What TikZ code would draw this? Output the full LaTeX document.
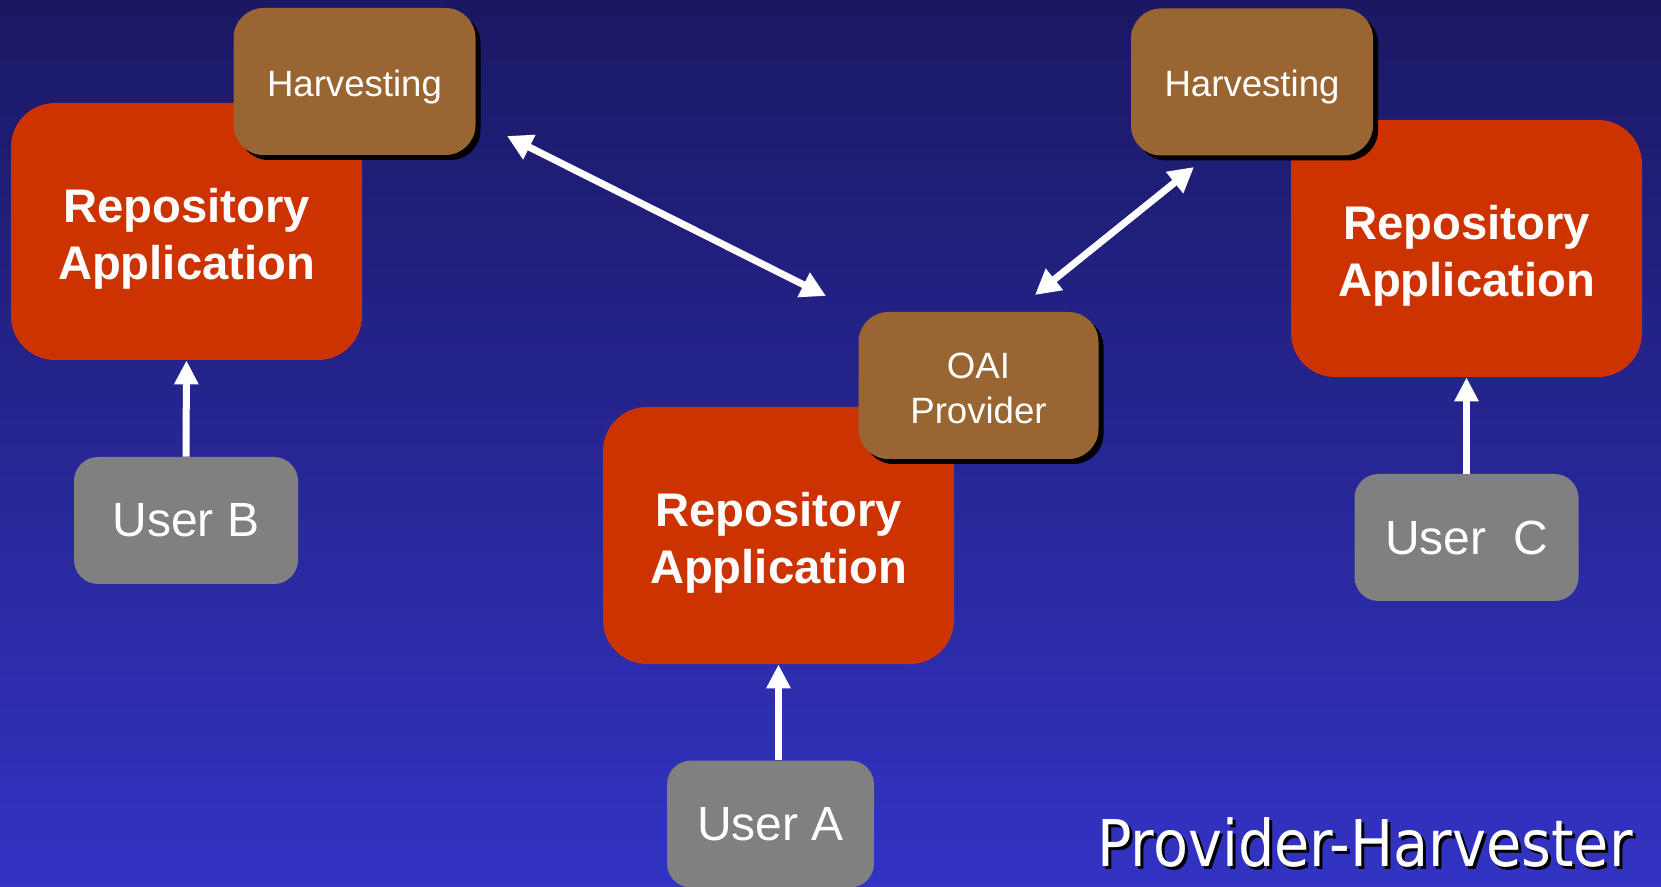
\documentclass[tikz,border=0pt]{standalone}
\usepackage{fontspec}
\setmainfont{Liberation Sans}
\newfontfamily\titlefont[FakeStretch=0.89]{DejaVu Sans}
\usetikzlibrary{arrows.meta,shadows}

\definecolor{bgtop}{RGB}{26,24,98}
\definecolor{bgbottom}{RGB}{51,51,196}
\definecolor{repored}{RGB}{204,51,0}
\definecolor{harvbrown}{RGB}{153,102,51}
\definecolor{usergray}{RGB}{128,128,128}

\begin{document}
\begin{tikzpicture}[x=0.5pt,y=-0.5pt,
    repo/.style={fill=repored, rounded corners=22pt, inner sep=0pt,
      minimum width=175.5pt, minimum height=128.5pt, align=center,
      text=white, font=\fontsize{23.6}{28.5}\selectfont\bfseries,
      execute at begin node={\rule{0pt}{52.7pt}}},
    harv/.style={fill=harvbrown, rounded corners=15pt, inner sep=0pt,
      minimum width=121pt, minimum height=73.5pt, align=center,
      text=white, font=\fontsize{18.3}{22.5}\selectfont,
      execute at begin node={\rule{0pt}{18.5pt}},
      drop shadow={shadow xshift=2.5pt, shadow yshift=-2.5pt, fill=black, opacity=1}},
    user/.style={fill=usergray, rounded corners=12pt, inner sep=0pt,
      minimum width=112pt, minimum height=63.5pt,
      text=white, font=\fontsize{24}{28}\selectfont},
    link/.style={draw=white, line width=3.5pt, {Triangle[length=12.5pt,width=13pt]}-{Triangle[length=12.5pt,width=13pt]}},
    uplink/.style={draw=white, line width=3.5pt, -{Triangle[length=12pt,width=11.5pt]}}]

  \shade[top color=bgtop, bottom color=bgbottom] (0,0) rectangle (1661,887);
  \useasboundingbox (0,0) rectangle (1661,887);

  \node[repo] (repoB) at (186.5,231.5) {Repository\\Application};
  \node[repo] (repoA) at (778.5,535.5) {Repository\\Application};
  \node[repo] (repoC) at (1466.5,248.5) {Repository\\Application};

  \node[harv] (harvB) at (354.5,81.5) {Harvesting};
  \node[harv] (harvC) at (1252,82) {Harvesting};
  \node[harv, minimum width=120pt, execute at begin node={\rule{0pt}{38.6pt}}] (oai) at (978.5,385.5) {OAI\\Provider};

  \node[user] (userB) at (186,520.5) {User B};
  \node[user, minimum width=103.5pt] (userA) at (770.5,824) {User A};
  \node[user] (userC) at (1466.5,537.5) {User\ \ C};

  \coordinate (harvB-end) at (507,136);
  \coordinate (oaiB-end) at (826,296);
  \coordinate (harvC-end) at (1194,167);
  \coordinate (oaiC-end) at (1035,295);

  \draw[link] (harvB-end) -- (oaiB-end);
  \draw[link] (harvC-end) -- (oaiC-end);

  \draw[uplink] (userB.north) -- (repoB.south);
  \draw[uplink] (userA.north -| repoA.south) -- (repoA.south);
  \draw[uplink] (userC.north) -- (repoC.south);

  \node[anchor=base west, inner sep=0pt, text=black,
    font=\titlefont\fontsize{32.2}{38}\selectfont] (title-shadow) at (1100,869) {Provider-Harvester};
  \node[anchor=base west, inner sep=0pt, text=white,
    font=\titlefont\fontsize{32.2}{38}\selectfont] (title) at (1097,866) {Provider-Harvester};
\end{tikzpicture}
\end{document}
